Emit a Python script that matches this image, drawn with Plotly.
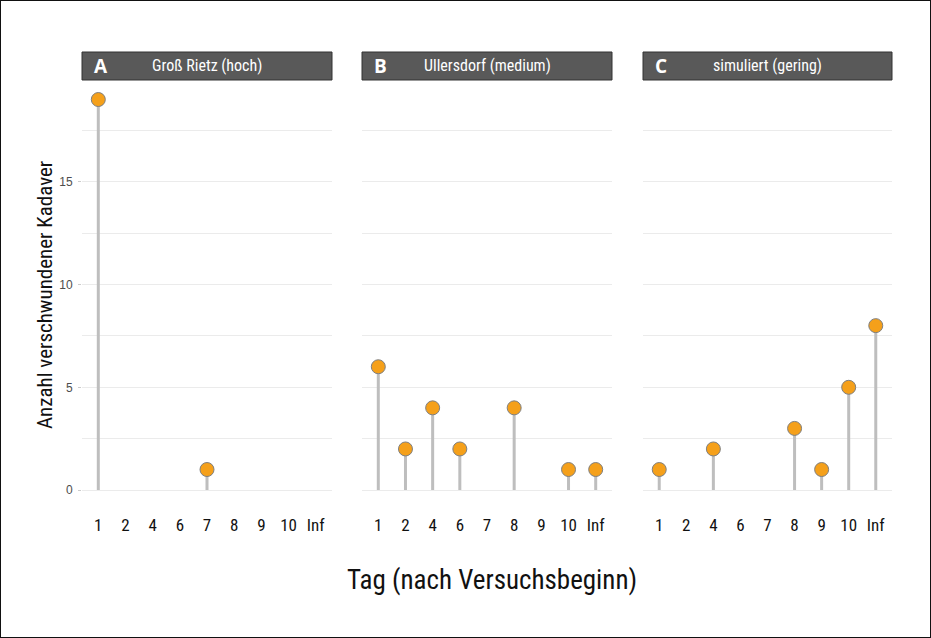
import plotly.graph_objects as go

days = ["1", "2", "4", "6", "7", "8", "9", "10", "Inf"]
gross_rietz = [19, 0, 0, 0, 1, 0, 0, 0, 0]
ullersdorf = [6, 2, 4, 2, 0, 4, 0, 1, 1]
simuliert = [1, 0, 2, 0, 0, 3, 1, 5, 8]
panel_letters = ["A", "B", "C"]
panel_titles = ["Groß Rietz (hoch)", "Ullersdorf (medium)", "simuliert (gering)"]
series = [gross_rietz, ullersdorf, simuliert]

W, H = 931, 638
COND = "Roboto Condensed, Liberation Sans Narrow, sans-serif"
px_x = [(82, 332), (362, 612), (643, 892)]
plot_top, plot_bottom = 80, 509.6

fig = go.Figure()
layout = dict(
    width=W, height=H, margin=dict(l=0, r=0, t=0, b=0),
    paper_bgcolor="white", plot_bgcolor="white", showlegend=False,
)
shapes = []
annotations = []
for i, (vals, letter, title) in enumerate(zip(series, panel_letters, panel_titles)):
    xs = [d for d, v in zip(days, vals) if v > 0]
    ys = [v for v in vals if v > 0]
    sfx = "" if i == 0 else str(i + 1)
    fig.add_trace(go.Scatter(
        x=xs, y=ys, mode="markers", xaxis="x" + sfx, yaxis="y" + sfx,
        marker=dict(size=14, color="#F5A01A", line=dict(color="#7F7F7F", width=1)),
        error_y=dict(type="data", symmetric=False, array=[0] * len(ys), arrayminus=ys,
                     thickness=3, width=0, color="#BEBEBE"),
        hoverinfo="x+y",
    ))
    x0, x1 = px_x[i]
    layout["xaxis" + sfx] = dict(
        domain=[x0 / W, x1 / W], anchor="y" + sfx, type="category",
        categoryorder="array", categoryarray=days, range=[-0.6, 8.6],
        showgrid=False, zeroline=False, showline=False, ticks="",
        tickfont=dict(family=COND, size=17, color="#111111"),
        ticklabelstandoff=3, fixedrange=True,
    )
    layout["yaxis" + sfx] = dict(
        domain=[(H - plot_bottom) / H, (H - plot_top) / H], anchor="x" + sfx,
        range=[-0.95, 19.95], dtick=5, tick0=0, showgrid=True, gridcolor="#EBEBEB",
        gridwidth=1, zeroline=False, showline=False,
        ticks="outside" if i == 0 else "", ticklen=3, tickcolor="#CCCCCC", tickwidth=1,
        minor=dict(dtick=2.5, tick0=0, showgrid=True, gridcolor="#EBEBEB", gridwidth=1),
        showticklabels=(i == 0),
        tickfont=dict(family="Liberation Sans, Arial, sans-serif", size=12, color="#4D4D4D"),
        ticklabelstandoff=3, fixedrange=True,
    )
    shapes.append(dict(type="rect", xref="paper", yref="paper",
                       x0=x0 / W, x1=x1 / W, y0=(H - 80) / H, y1=(H - 52) / H,
                       fillcolor="#595959", line=dict(color="#333333", width=1), layer="above"))
    annotations.append(dict(xref="paper", yref="paper", x=(x0 + 10) / W, y=(H - 66) / H,
                            text="<b>" + letter + "</b>", showarrow=False, xanchor="left",
                            yanchor="middle", font=dict(family="Open Sans, Liberation Sans, sans-serif",
                                                        size=19, color="white")))
    annotations.append(dict(xref="paper", yref="paper", x=(x0 + x1) / 2 / W, y=(H - 66) / H,
                            text=title, showarrow=False, xanchor="center", yanchor="middle",
                            font=dict(family=COND, size=16, color="white")))

annotations.append(dict(xref="paper", yref="paper", x=45 / W, y=(H - 295) / H,
                        text="Anzahl verschwundener Kadaver", showarrow=False, textangle=-90,
                        xanchor="center", yanchor="middle",
                        font=dict(family=COND, size=21, color="#111111")))
annotations.append(dict(xref="paper", yref="paper", x=492 / W, y=(H - 580) / H,
                        text="Tag (nach Versuchsbeginn)", showarrow=False,
                        xanchor="center", yanchor="middle",
                        font=dict(family=COND, size=27, color="#111111")))
shapes.append(dict(type="rect", xref="paper", yref="paper", x0=0, x1=1, y0=0, y1=1,
                   line=dict(color="#111111", width=2), fillcolor="rgba(0,0,0,0)", layer="above"))
layout["shapes"] = shapes
layout["annotations"] = annotations
fig.update_layout(**layout)
fig.write_html("out.html", post_script="document.body.style.margin='0';",
               config={"displayModeBar": False})
